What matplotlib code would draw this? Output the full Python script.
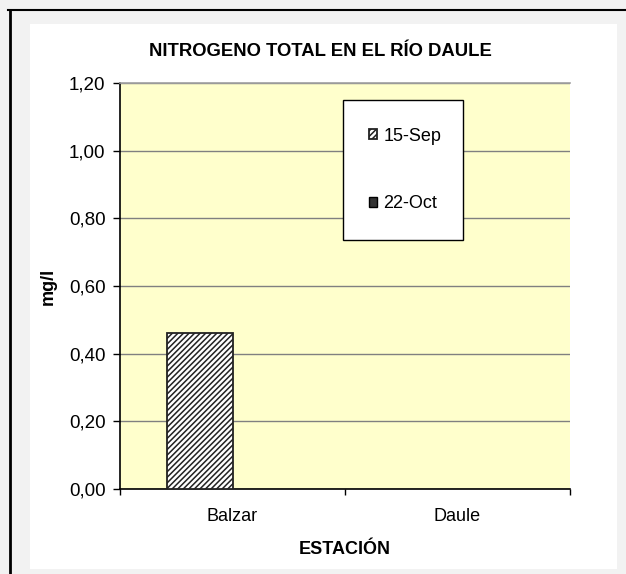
import numpy as np
import matplotlib
matplotlib.use("Agg")
import matplotlib.pyplot as plt
from matplotlib.patches import Rectangle
from matplotlib.lines import Line2D
from matplotlib.ticker import FuncFormatter, FixedLocator

plt.rcParams['font.family'] = ['Liberation Sans', 'DejaVu Sans']
plt.rcParams['hatch.linewidth'] = 1.1

# ---- data ----
stations = ["Balzar", "Daule"]
series_names = ["15-Sep", "22-Oct"]
values_sep = [0.46, np.nan]
values_oct = [np.nan, np.nan]
yticks = [0.0, 0.2, 0.4, 0.6, 0.8, 1.0, 1.2]

W, H = 626, 574
fig = plt.figure(figsize=(W / 100, H / 100), dpi=100)
fig.patch.set_facecolor('#f2f2f2')

def fx(px):
    return px / W

def fy(py):
    return (H - py) / H

# white chart area and outer black border lines
fig.patches.append(Rectangle((fx(30), fy(569)), fx(617) - fx(30), fy(24) - fy(569),
                             transform=fig.transFigure, facecolor='white',
                             edgecolor='none', zorder=-5))
fig.lines.append(Line2D([fx(8), fx(626)], [fy(9.5), fy(9.5)], transform=fig.transFigure,
                        color='black', lw=1.5))
fig.lines.append(Line2D([fx(9.5), fx(9.5)], [fy(9.5), fy(574)], transform=fig.transFigure,
                        color='black', lw=2))

ax = fig.add_axes([fx(120), fy(489), fx(570) - fx(120), fy(83) - fy(489)])
ax.set_facecolor('#ffffcc')

x = np.arange(len(stations)) + 0.5
bw = 0.292
b1 = ax.bar(x - bw / 2, values_sep, bw, facecolor='white', edgecolor='#222222',
            hatch='//////', linewidth=1.3, label=series_names[0], zorder=3)
b2 = ax.bar(x + bw / 2, values_oct, bw, facecolor='#333333', edgecolor='black',
            linewidth=1.0, label=series_names[1], zorder=3)

ax.set_xlim(0, len(stations))
ax.set_ylim(0, 1.2)
ax.set_yticks(yticks)
ax.yaxis.set_major_formatter(FuncFormatter(lambda v, p: f"{v:.2f}".replace('.', ',')))
ax.grid(axis='y', color='#808080', linewidth=1.0, zorder=1)
ax.set_axisbelow(True)

ax.set_xticks(x)
ax.set_xticklabels(stations)
ax.xaxis.set_minor_locator(FixedLocator(np.arange(len(stations) + 1)))
ax.tick_params(axis='x', which='major', length=0, pad=14, labelsize=13)
ax.tick_params(axis='x', which='minor', length=4, width=1, direction='out', color='black')
ax.tick_params(axis='y', length=5, width=1, direction='out', pad=5.5, labelsize=13.5, color='black')

for s in ['left', 'bottom']:
    ax.spines[s].set_color('black')
    ax.spines[s].set_linewidth(1.2)
ax.spines['top'].set_color('#a0a0a0')
ax.spines['top'].set_linewidth(1.2)
ax.spines['right'].set_visible(False)

ax.set_xlabel("ESTACIÓN", fontsize=13, fontweight='bold')
ax.xaxis.set_label_coords(0.5, -0.148)
ax.xaxis.label.set_va('center')
ax.set_ylabel("mg/l", fontsize=13, fontweight='bold')
ax.yaxis.set_label_coords(-0.16, 0.5)
ax.yaxis.label.set_va('center')

fig.text(fx(320), fy(51.5), "NITROGENO TOTAL EN EL RÍO DAULE", ha='center', va='center',
         fontsize=13.3, fontweight='bold')

# legend box
fig.patches.append(Rectangle((fx(343), fy(240)), fx(463) - fx(343), fy(100) - fy(240),
                             transform=fig.transFigure, facecolor='white',
                             edgecolor='black', linewidth=1.0, zorder=4))
leg = fig.legend(handles=[b1, b2], labels=series_names, loc='center',
                 bbox_to_anchor=(fx(405), fy(170)), frameon=False, fontsize=13,
                 handlelength=0.45, handleheight=0.45, handletextpad=0.35,
                 labelspacing=2.8)
leg.set_zorder(5)

fig.savefig("out.png", dpi=100, facecolor=fig.get_facecolor())
